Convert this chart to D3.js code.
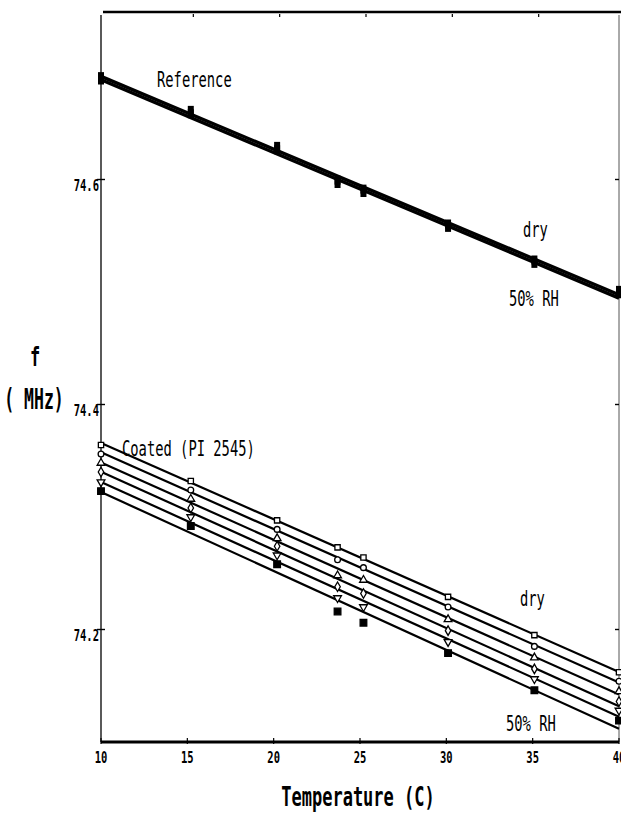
<!DOCTYPE html>
<meta charset="utf-8">
<html>
<head>
  <style>
    body { margin: 0; background: white; }
    .lbl { font-family: "DejaVu Sans Mono", "Liberation Mono", monospace; fill: black; }
  </style>
</head>
<body>
<svg width="621" height="816"></svg>

<script src="https://d3js.org/d3.v7.min.js"></script>
<script>

// temperatures (C) where points were taken
const temps = [10, 15.2, 20.2, 23.7, 25.2, 30.1, 35.1, 40];
const xTicks = [10, 15, 20, 25, 30, 35, 40];
const yTicks = [74.2, 74.4, 74.6];

// uncoated reference device, dry and 50% RH (nearly on top of each other)
const refDry = [74.691, 74.661, 74.629, 74.599, 74.591, 74.560, 74.528, 74.501];
const refWet = [74.688, 74.658, 74.626, 74.596, 74.588, 74.557, 74.525, 74.498];

// coated (PI 2545) device, dry at top down to 50% RH at bottom
const coatDry  = [74.364, 74.332, 74.297, 74.273, 74.264, 74.229, 74.195, 74.162];
const coatRh10 = [74.356, 74.324, 74.289, 74.262, 74.255, 74.220, 74.185, 74.154];
const coatRh20 = [74.348, 74.316, 74.281, 74.248, 74.244, 74.209, 74.175, 74.145];
const coatRh30 = [74.340, 74.308, 74.274, 74.238, 74.232, 74.199, 74.165, 74.136];
const coatRh40 = [74.331, 74.300, 74.266, 74.228, 74.220, 74.189, 74.156, 74.128];
const coatRh50 = [74.323, 74.292, 74.258, 74.216, 74.206, 74.179, 74.146, 74.119];

const svg = d3.select("svg");
svg.append("rect").attr("width", 621).attr("height", 816).attr("fill", "white");

const x = d3.scaleLinear().domain([10, 40]).range([101, 619]);
const y = d3.scaleLinear().domain([74.1, 74.75]).range([742, 10.75]);

// least squares line through a series
function fit(vals) {
  const n = temps.length;
  const mx = d3.mean(temps), my = d3.mean(vals);
  let sxy = 0, sxx = 0;
  for (let i = 0; i < n; i++) {
    sxy += (temps[i] - mx) * (vals[i] - my);
    sxx += (temps[i] - mx) * (temps[i] - mx);
  }
  const b = sxy / sxx;
  return t => my + b * (t - mx);
}

// plotter style text: narrow mono, stretched vertically
function label(txt, px, py, size, sy, opts = {}) {
  svg.append("text")
    .attr("class", "lbl")
    .attr("transform", `translate(${px},${py}) scale(1,${sy})`)
    .attr("font-size", size)
    .attr("font-weight", opts.bold ? "bold" : "normal")
    .attr("text-anchor", opts.anchor || "start")
    .attr("letter-spacing", opts.ls || 0)
    .text(txt);
}

// frame
const g = svg.append("g").attr("stroke", "black").attr("fill", "none");
g.append("line").attr("x1", x(10) + 2).attr("x2", 621).attr("y1", 12).attr("y2", 12).attr("stroke-width", 2.5);
g.append("line").attr("x1", x(10)).attr("x2", x(10)).attr("y1", 15).attr("y2", y(74.1)).attr("stroke-width", 1.3);
g.append("line").attr("x1", x(40)).attr("x2", x(40)).attr("y1", 15).attr("y2", y(74.1)).attr("stroke-width", 1).attr("stroke", "#555");
g.append("line").attr("x1", x(10)).attr("x2", x(40)).attr("y1", y(74.1)).attr("y2", y(74.1)).attr("stroke-width", 2.8);

// x ticks, bottom and top
xTicks.forEach(t => {
  g.append("line").attr("x1", x(t)).attr("x2", x(t)).attr("y1", y(74.1) - 4).attr("y2", y(74.1) + 2).attr("stroke-width", 1.2);
  if (t > 10 && t < 40)
    g.append("line").attr("x1", x(t) + 6).attr("x2", x(t) + 6).attr("y1", 14).attr("y2", 17).attr("stroke-width", 1.2);
  label(d3.format("d")(t), x(t), 763, 10.5, 1.55, { bold: true, anchor: "middle" });
});

// y ticks, left and right
yTicks.forEach(v => {
  g.append("line").attr("x1", x(10) - 4).attr("x2", x(10) + 4).attr("y1", y(v)).attr("y2", y(v)).attr("stroke-width", 1.4);
  g.append("line").attr("x1", x(40) - 4).attr("x2", x(40)).attr("y1", y(v)).attr("y2", y(v)).attr("stroke-width", 1.4);
  label(d3.format(".1f")(v), x(10) - 2, y(v) + 11, 10.5, 1.5, { bold: true, anchor: "end" });
});

// fitted lines
const lineG = svg.append("g").attr("stroke", "black").attr("fill", "none");
[refDry, refWet].forEach(s => {
  const f = fit(s);
  lineG.append("line")
    .attr("x1", x(10)).attr("y1", y(f(10)))
    .attr("x2", x(40)).attr("y2", y(f(40)))
    .attr("stroke-width", 3.4);
});
const coated = [coatDry, coatRh10, coatRh20, coatRh30, coatRh40, coatRh50];
coated.forEach(s => {
  const f = fit(s);
  lineG.append("line")
    .attr("x1", x(10)).attr("y1", y(f(10)))
    .attr("x2", x(40)).attr("y2", y(f(40)))
    .attr("stroke-width", 2.2);
});

// reference markers
[refDry, refWet].forEach(s => {
  svg.append("g").selectAll("rect")
    .data(s)
    .join("rect")
    .attr("x", (d, i) => x(temps[i]) - 3)
    .attr("y", d => y(d) - 5)
    .attr("width", 6)
    .attr("height", 9)
    .attr("fill", "black");
});

// coated markers
const symbols = [
  { type: d3.symbolSquare, size: 28, rot: 0, fill: "white" },
  { type: d3.symbolCircle, size: 26, rot: 0, fill: "white" },
  { type: d3.symbolTriangle, size: 26, rot: 0, fill: "white" },
  { type: d3.symbolDiamond, size: 26, rot: 0, fill: "white" },
  { type: d3.symbolTriangle, size: 26, rot: 180, fill: "white" },
  { type: d3.symbolSquare, size: 44, rot: 0, fill: "black" }
];
coated.forEach((s, k) => {
  const sym = symbols[k];
  svg.append("g").selectAll("path")
    .data(s)
    .join("path")
    .attr("transform", (d, i) => `translate(${x(temps[i])},${y(d)}) rotate(${sym.rot})`)
    .attr("d", d3.symbol().type(sym.type).size(sym.size))
    .attr("fill", sym.fill)
    .attr("stroke", "black")
    .attr("stroke-width", 1.3);
});

// annotations
label("Reference", 157, 87, 13.8, 1.55);
label("dry", 523, 237, 13.8, 1.55);
label("50% RH", 509, 306, 13.8, 1.55);
label("Coated (PI 2545)", 122, 456, 13.8, 1.55);
label("dry", 520, 606, 13.8, 1.55);
label("50% RH", 506, 731, 13.8, 1.55);

// axis titles
label("f", 35, 366, 17, 1.6, { bold: true, anchor: "middle" });
label("( MHz)", 34, 409, 16.5, 1.7, { bold: true, anchor: "middle" });
label("Temperature (C)", 358, 806, 17, 1.6, { bold: true, anchor: "middle" });

</script>
</body>
</html>
